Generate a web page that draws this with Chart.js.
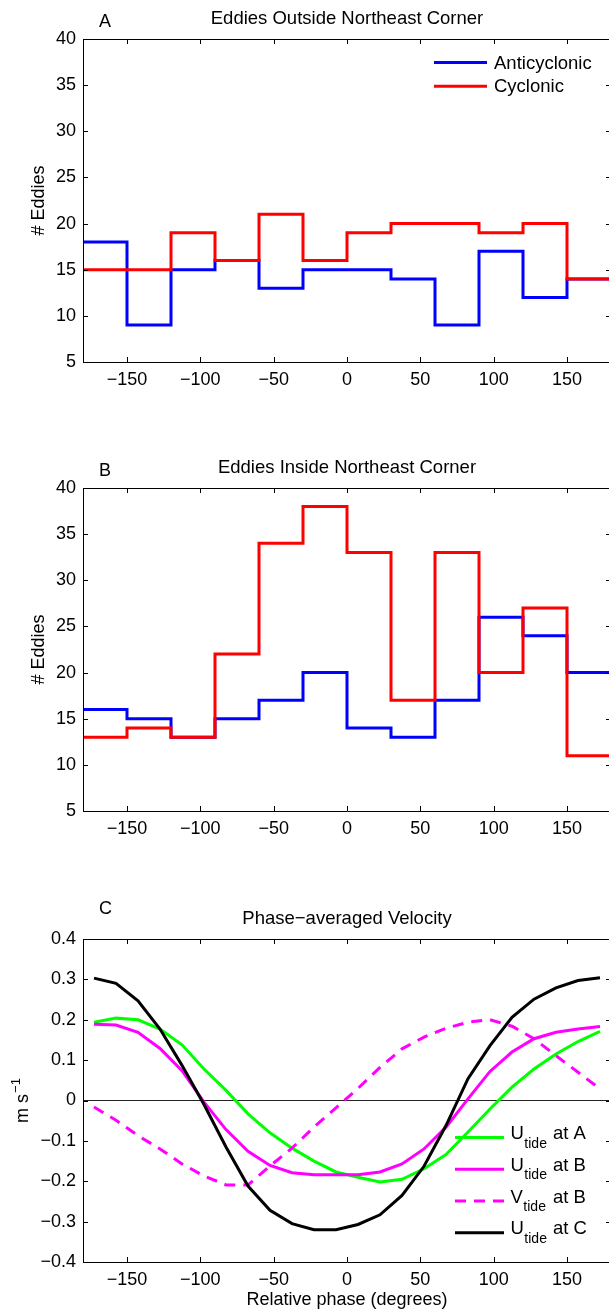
<!DOCTYPE html>
<html><head><meta charset="utf-8">
<script src="https://cdn.jsdelivr.net/npm/chart.js@4"></script>
<style>
html,body{margin:0;padding:0;background:#fff;overflow:hidden;width:609px;height:1312px;position:relative}
canvas{position:absolute;left:0}
</style></head><body>
<canvas id="cA" width="620" height="449" style="top:0px"></canvas>
<canvas id="cB" width="620" height="449" style="top:449px"></canvas>
<canvas id="cC" width="620" height="412" style="top:900px"></canvas>
<script>
// ---------- data ----------
const binEdges = [-180, -150, -120, -90, -60, -30, 0, 30, 60, 90, 120, 150, 180];
const anticyclonicOutside = [18, 9, 15, 16, 13, 15, 15, 14, 9, 17, 12, 14];
const cyclonicOutside     = [15, 15, 19, 16, 21, 16, 19, 20, 20, 19, 20, 14];
const anticyclonicInside  = [16, 15, 13, 15, 17, 20, 14, 13, 17, 26, 24, 20];
const cyclonicInside      = [13, 14, 13, 22, 34, 38, 33, 17, 33, 20, 27, 11];
const eddySeriesNames = ['Anticyclonic', 'Cyclonic'];

const phaseDeg = [-172.5, -157.5, -142.5, -127.5, -112.5, -97.5, -82.5, -67.5, -52.5, -37.5, -22.5, -7.5,
                  7.5, 22.5, 37.5, 52.5, 67.5, 82.5, 97.5, 112.5, 127.5, 142.5, 157.5, 172.5];
const uTideA = [0.194, 0.204, 0.200, 0.177, 0.138, 0.078, 0.025, -0.033, -0.080, -0.118, -0.150, -0.177,
                -0.190, -0.202, -0.195, -0.169, -0.134, -0.078, -0.021, 0.033, 0.078, 0.115, 0.146, 0.171];
const uTideB = [0.189, 0.187, 0.169, 0.129, 0.074, -0.004, -0.072, -0.126, -0.161, -0.179, -0.184, -0.184,
                -0.184, -0.177, -0.157, -0.120, -0.066, 0.004, 0.072, 0.120, 0.153, 0.169, 0.177, 0.183];
const vTideB = [-0.016, -0.049, -0.087, -0.120, -0.157, -0.187, -0.209, -0.209, -0.162, -0.118, -0.066, -0.018,
                0.030, 0.082, 0.128, 0.157, 0.179, 0.194, 0.200, 0.184, 0.153, 0.111, 0.070, 0.029];
const uTideC = [0.303, 0.290, 0.247, 0.177, 0.087, -0.010, -0.115, -0.212, -0.272, -0.305, -0.320, -0.320,
                -0.307, -0.283, -0.235, -0.163, -0.062, 0.054, 0.136, 0.206, 0.251, 0.279, 0.297, 0.304];
const velSeriesMain = ['U', 'U', 'V', 'U'];
const velSeriesSub  = ['tide', 'tide', 'tide', 'tide'];
const velSeriesRest = ['at A', 'at B', 'at B', 'at C'];

const xTickValues    = [-150, -100, -50, 0, 50, 100, 150];
const eddyTickValues = [5, 10, 15, 20, 25, 30, 35, 40];
const velTickValues  = [-0.4, -0.3, -0.2, -0.1, 0, 0.1, 0.2, 0.3, 0.4];

const panelTitles  = ['Eddies Outside Northeast Corner', 'Eddies Inside Northeast Corner', 'Phase\u2212averaged Velocity'];
const panelLetters = ['A', 'B', 'C'];
const eddyAxisTitle = '# Eddies';
const phaseAxisTitle = 'Relative phase (degrees)';

// ---------- layout / style ----------
const FONT = "'Liberation Sans', Arial, Helvetica, sans-serif";
const FS = 18;      // tick labels, axis titles
const FT = 18.5;    // panel titles, legends
const TOP = 39, LEFT = 83, AREA_H = 323, RIGHT_EDGE = 611, CW = 620;
const TICK = 5;
Chart.defaults.font.family = FONT;
Chart.defaults.font.size = FS;
Chart.defaults.color = '#000';

function fmt(v) {
  if (Math.abs(v) < 1e-9) return '0';
  return (v < 0 ? '\u2212' : '') + String(Math.abs(v));
}
function stepPoints(vals) {
  return binEdges.map((e, i) => ({ x: e, y: vals[Math.min(i, vals.length - 1)] }));
}
function curvePoints(vals) {
  return phaseDeg.map((p, i) => ({ x: p, y: vals[i] }));
}

function makeScales(H, yMin, yMax, yTicks, yTitle, xTitle) {
  return {
    x: {
      type: 'linear', min: -180, max: 180,
      afterBuildTicks: s => { s.ticks = xTickValues.map(v => ({ value: v })); },
      afterFit: s => { s.height = H - TOP - AREA_H; },
      grid: { display: false, drawTicks: false }, border: { display: false },
      ticks: { padding: 7.5, autoSkip: false, maxRotation: 0, callback: v => fmt(v), font: { size: FS } },
      title: xTitle ? { display: true, text: xTitle, padding: { top: 0, bottom: 1 }, font: { size: FS } } : { display: false }
    },
    y: {
      type: 'linear', min: yMin, max: yMax,
      afterBuildTicks: s => { s.ticks = yTicks.map(v => ({ value: v })); },
      afterFit: s => { s.width = LEFT; },
      grid: { display: false, drawTicks: false }, border: { display: false },
      ticks: { padding: 7, autoSkip: false, callback: v => fmt(v), font: { size: FS } },
      title: yTitle ? { display: true, text: yTitle, padding: { top: 28, bottom: 0 }, font: { size: FS } } : { display: false }
    }
  };
}

// frame + inward ticks + optional zero line
function framePlugin(zeroLine) {
  return {
    id: 'frame',
    beforeDatasetsDraw(chart) {
      if (!zeroLine) return;
      const { ctx, chartArea: a, scales: { y } } = chart;
      const py = Math.round(y.getPixelForValue(0)) - 0.5;
      ctx.save(); ctx.strokeStyle = '#222'; ctx.lineWidth = 1;
      ctx.beginPath(); ctx.moveTo(a.left, py); ctx.lineTo(a.right, py); ctx.stroke(); ctx.restore();
    },
    afterDraw(chart) {
      const { ctx, chartArea: a, scales: { x, y } } = chart;
      ctx.save();
      ctx.strokeStyle = '#000'; ctx.lineWidth = 1; ctx.setLineDash([]);
      ctx.beginPath();
      ctx.rect(a.left + 0.5, a.top + 0.5, a.right - a.left, a.bottom - a.top);
      x.ticks.forEach(t => {
        const px = Math.round(x.getPixelForValue(t.value)) + 0.5;
        ctx.moveTo(px, a.bottom); ctx.lineTo(px, a.bottom - TICK);
        ctx.moveTo(px, a.top); ctx.lineTo(px, a.top + TICK);
      });
      y.ticks.forEach(t => {
        const py = Math.round(y.getPixelForValue(t.value)) + 0.5;
        ctx.moveTo(a.left, py); ctx.lineTo(a.left + TICK, py);
        ctx.moveTo(a.right, py); ctx.lineTo(a.right - TICK, py);
      });
      ctx.stroke();
      ctx.restore();
    }
  };
}

// panel title and letter
function headPlugin(idx, letterDy) {
  return {
    id: 'head',
    afterDraw(chart) {
      const { ctx, chartArea: a } = chart;
      ctx.save();
      ctx.fillStyle = '#000';
      ctx.font = FT + 'px ' + FONT;
      ctx.textBaseline = 'alphabetic';
      ctx.textAlign = 'center';
      ctx.fillText(panelTitles[idx], (a.left + a.right) / 2, a.top - 15);
      ctx.textAlign = 'left';
      ctx.font = FS + 'px ' + FONT;
      ctx.fillText(panelLetters[idx], 99, a.top - letterDy);
      ctx.restore();
    }
  };
}

// legend for panel A
const legendA = {
  id: 'legendA',
  afterDatasetsDraw(chart) {
    const { ctx, chartArea: a } = chart;
    const ds = chart.data.datasets;
    ctx.save();
    ctx.font = FT + 'px ' + FONT;
    ctx.textBaseline = 'middle'; ctx.textAlign = 'left'; ctx.fillStyle = '#000';
    eddySeriesNames.forEach((name, i) => {
      const yy = a.top + 23.5 + i * 23.7;
      const d = ds.find(dd => dd.label === name);
      ctx.strokeStyle = d.borderColor; ctx.lineWidth = 3; ctx.setLineDash([]);
      ctx.beginPath(); ctx.moveTo(434, yy); ctx.lineTo(487, yy); ctx.stroke();
      ctx.fillText(name, 494, yy + 1);
    });
    ctx.restore();
  }
};

// legend + y title for panel C
const legendC = {
  id: 'legendC',
  afterDatasetsDraw(chart) {
    const { ctx, chartArea: a } = chart;
    const ds = chart.data.datasets;
    ctx.save();
    ctx.textAlign = 'left'; ctx.textBaseline = 'alphabetic'; ctx.fillStyle = '#000';
    for (let i = 0; i < 4; i++) {
      const d = ds[i];
      const yy = a.top + 198.6 + i * 31.7;
      ctx.strokeStyle = d.borderColor; ctx.lineWidth = 3;
      ctx.setLineDash(d.borderDash || []);
      ctx.beginPath(); ctx.moveTo(455, yy); ctx.lineTo(504, yy); ctx.stroke();
      ctx.setLineDash([]);
      ctx.font = FT + 'px ' + FONT;
      ctx.fillText(velSeriesMain[i], 510.5, yy + 1.5);
      const w = ctx.measureText(velSeriesMain[i]).width;
      ctx.font = '14px ' + FONT;
      ctx.fillText(velSeriesSub[i], 510.5 + w + 0.5, yy + 10);
      ctx.font = FT + 'px ' + FONT;
      ctx.fillText(velSeriesRest[i], 553, yy + 1.5);
    }
    ctx.restore();
  },
  afterDraw(chart) {
    const { ctx, chartArea: a } = chart;
    ctx.save();
    ctx.translate(28, (a.top + a.bottom) / 2);
    ctx.rotate(-Math.PI / 2);
    ctx.fillStyle = '#000'; ctx.textAlign = 'left'; ctx.textBaseline = 'alphabetic';
    ctx.font = FS + 'px ' + FONT;
    const main = 'm s', sup = '\u22121';
    const w1 = ctx.measureText(main).width;
    ctx.font = '13px ' + FONT;
    const w2 = ctx.measureText(sup).width;
    const sx = -(w1 + w2 + 1) / 2;
    ctx.font = FS + 'px ' + FONT;
    ctx.fillText(main, sx, 0);
    ctx.font = '13px ' + FONT;
    ctx.fillText(sup, sx + w1 + 1, -8);
    ctx.restore();
  }
};

const baseOpts = () => ({
  responsive: false, animation: false, devicePixelRatio: 1,
  layout: { padding: { top: TOP, left: 0, right: CW - RIGHT_EDGE, bottom: 0 } },
  plugins: { legend: { display: false }, tooltip: { enabled: false }, title: { display: false } },
  elements: { point: { radius: 0 }, line: { tension: 0, borderCapStyle: 'butt', borderJoinStyle: 'miter' } }
});

function eddyChart(id, idx, anti, cyc, H, extra) {
  const opts = baseOpts();
  opts.scales = makeScales(H, 5, 40, eddyTickValues, eddyAxisTitle, null);
  return new Chart(document.getElementById(id), {
    type: 'line',
    data: {
      datasets: [
        { label: eddySeriesNames[0], data: stepPoints(anti), stepped: true, borderColor: '#0000ff', borderWidth: 3, fill: false, order: 2 },
        { label: eddySeriesNames[1], data: stepPoints(cyc), stepped: true, borderColor: '#ff0000', borderWidth: 3, fill: false, order: 1 }
      ]
    },
    options: opts,
    plugins: [framePlugin(false), headPlugin(idx, 12.5)].concat(extra)
  });
}

eddyChart('cA', 0, anticyclonicOutside, cyclonicOutside, 449, [legendA]);
eddyChart('cB', 1, anticyclonicInside, cyclonicInside, 449, []);

(function () {
  const H = 412;
  const opts = baseOpts();
  opts.scales = makeScales(H, -0.4, 0.4, velTickValues, null, phaseAxisTitle);
  new Chart(document.getElementById('cC'), {
    type: 'line',
    data: {
      datasets: [
        { label: 'U_tide at A', data: curvePoints(uTideA), borderColor: '#00ff00', borderWidth: 3, fill: false, order: 4 },
        { label: 'U_tide at B', data: curvePoints(uTideB), borderColor: '#ff00ff', borderWidth: 3, fill: false, order: 3 },
        { label: 'V_tide at B', data: curvePoints(vTideB), borderColor: '#ff00ff', borderWidth: 3, borderDash: [11, 8], fill: false, order: 2 },
        { label: 'U_tide at C', data: curvePoints(uTideC), borderColor: '#000000', borderWidth: 3, fill: false, order: 1 }
      ]
    },
    options: opts,
    plugins: [framePlugin(true), headPlugin(2, 24.7), legendC]
  });
})();
</script>
</body></html>
